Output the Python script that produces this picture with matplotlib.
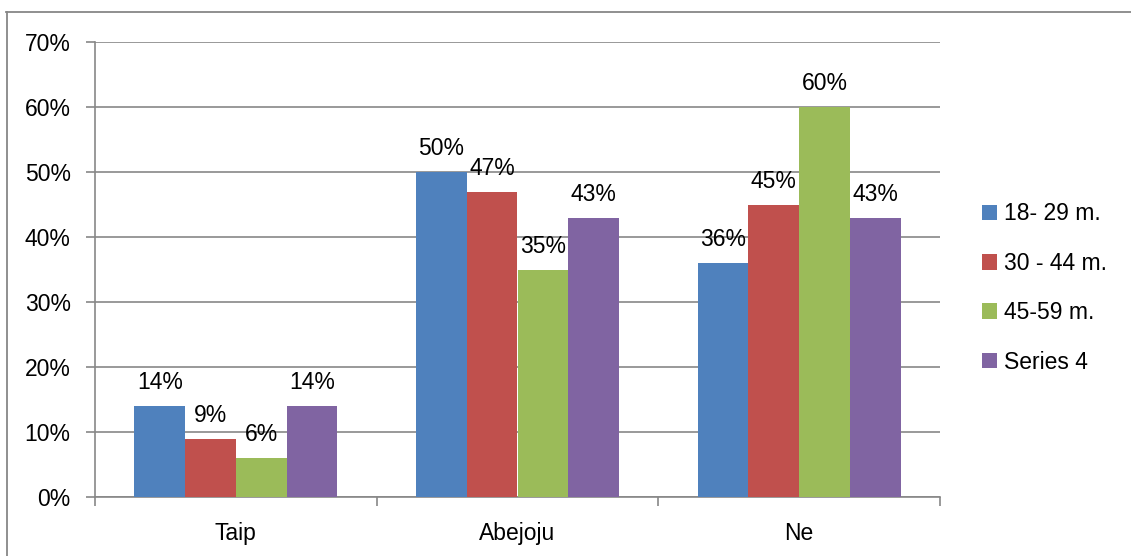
import matplotlib
matplotlib.use("Agg")
import matplotlib.pyplot as plt
from matplotlib.lines import Line2D
import numpy as np

categories = ["Taip", "Abejoju", "Ne"]
series_names = ["18- 29 m.", "30 - 44 m.", "45-59 m.", "Series 4"]
series_values = [
    [14, 50, 36],
    [9, 47, 45],
    [6, 35, 60],
    [14, 43, 43],
]
colors = ["#4F81BD", "#C0504D", "#9BBB59", "#8064A2"]
y_ticks = [0, 10, 20, 30, 40, 50, 60, 70]

plt.rcParams["font.family"] = ["Liberation Sans", "DejaVu Sans"]
fs = 16.5
W, H = 1131, 556
axis_grey = "#878787"

fig = plt.figure(figsize=(W / 100, H / 100), dpi=100)
ax = fig.add_axes([95 / W, 59 / H, 845 / W, 455 / H])

x = np.arange(len(categories))
bw = 0.18
handles = []
for i, (name, vals, c) in enumerate(zip(series_names, series_values, colors)):
    pos = x + (i - 1.5) * bw
    bars = ax.bar(pos, vals, width=bw, color=c, label=name, zorder=3)
    handles.append(bars)
    for p, v in zip(pos, vals):
        ax.text(p, v + 3.6, f"{v}%", ha="center", va="center", fontsize=fs,
                color="#000000", zorder=4)

ax.set_xlim(-0.5, len(categories) - 0.5)
ax.set_ylim(0, 70)
ax.set_yticks(y_ticks)
ax.set_yticklabels([f"{t}%" for t in y_ticks], fontsize=fs)
ax.set_xticks(x)
ax.set_xticklabels(categories, fontsize=fs)
ax.set_xticks(np.arange(-0.5, len(categories), 1.0), minor=True)
ax.tick_params(axis="x", which="major", length=0, pad=18)
ax.tick_params(axis="x", which="minor", length=6.5, width=1.2, color=axis_grey,
               direction="out")
ax.tick_params(axis="y", length=6.5, width=1.2, color=axis_grey, direction="out",
               pad=11)

ax.grid(axis="y", color=axis_grey, linewidth=1.2, zorder=0)
for side in ["top", "right"]:
    ax.spines[side].set_visible(False)
for side in ["left", "bottom"]:
    ax.spines[side].set_color(axis_grey)
    ax.spines[side].set_linewidth(1.2)

fig.legend(handles=handles, labels=series_names, loc="center left",
           bbox_to_anchor=(982 / W, 1 - 288 / H), frameon=False, fontsize=fs,
           borderpad=0, borderaxespad=0,
           handlelength=0.66, handleheight=0.66, handletextpad=0.32,
           labelspacing=1.15)

# chart-area border along the left and top edges
fig.add_artist(Line2D([6.5 / W, 6.5 / W], [0, 1 - 12 / H], transform=fig.transFigure,
                      color=axis_grey, linewidth=1.3))
fig.add_artist(Line2D([6 / W, 1], [1 - 12 / H, 1 - 12 / H], transform=fig.transFigure,
                      color=axis_grey, linewidth=1.3))

fig.savefig("out.png", dpi=100)
